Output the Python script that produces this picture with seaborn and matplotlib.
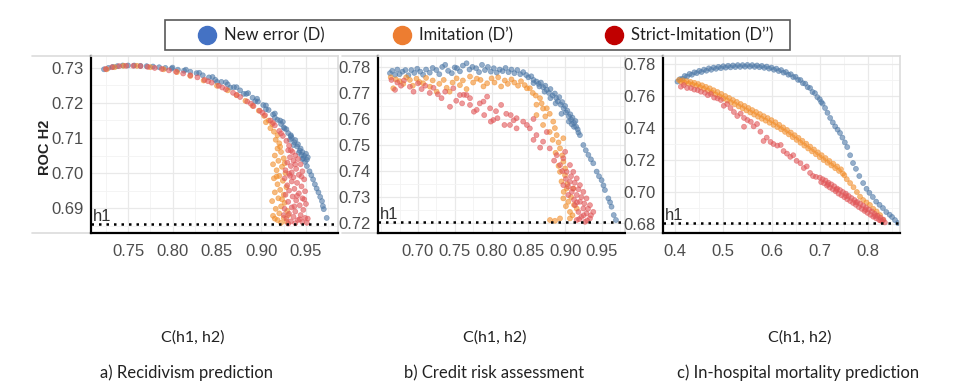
import matplotlib
matplotlib.use("Agg")
from matplotlib import pyplot as plt
from matplotlib.lines import Line2D
from matplotlib.patches import Rectangle
from matplotlib.ticker import MultipleLocator, FixedLocator
import matplotlib.transforms as mtransforms
import pandas as pd
import seaborn as sns

series_names = ["New error (D)", "Imitation (D\u2019)", "Strict-Imitation (D\u2019\u2019)"]
point_colors = ["#4e79a7", "#f28e2b", "#e15759"]
legend_colors = ["#4472c4", "#ed7d31", "#c00000"]
captions = ["a) Recidivism prediction", "b) Credit risk assessment", "c) In-hospital mortality prediction"]
x_title = "C(h1, h2)"
y_title = "ROC H2"
h1_values = [0.6855, 0.7203, 0.6805]
x_tick_values = [
    [0.75, 0.80, 0.85, 0.90, 0.95],
    [0.70, 0.75, 0.80, 0.85, 0.90, 0.95],
    [0.4, 0.5, 0.6, 0.7, 0.8],
]

# ---- a) Recidivism: (C, ROC) pairs ----
a_new_error = [
    (0.723, 0.7296), (0.728, 0.7300), (0.733, 0.7303), (0.738, 0.7305), (0.744, 0.7307), (0.750, 0.7307),
    (0.757, 0.7307), (0.764, 0.7306), (0.771, 0.7305), (0.778, 0.7304), (0.785, 0.7302), (0.792, 0.7300),
    (0.799, 0.7298), (0.806, 0.7295), (0.813, 0.7292), (0.820, 0.7289), (0.827, 0.7285), (0.834, 0.7279),
    (0.841, 0.7273), (0.848, 0.7266), (0.855, 0.7260), (0.862, 0.7253), (0.869, 0.7245), (0.876, 0.7236),
    (0.883, 0.7226), (0.890, 0.7215), (0.896, 0.7204), (0.902, 0.7194), (0.908, 0.7180), (0.913, 0.7167),
    (0.918, 0.7152), (0.922, 0.7140), (0.926, 0.7127), (0.930, 0.7114), (0.934, 0.7100), (0.937, 0.7088),
    (0.940, 0.7076), (0.943, 0.7064), (0.945, 0.7052), (0.947, 0.7042), (0.949, 0.7032),
    (0.800, 0.7301), (0.815, 0.7295), (0.830, 0.7286), (0.845, 0.7274), (0.860, 0.7259), (0.872, 0.7245),
    (0.885, 0.7228), (0.895, 0.7212), (0.905, 0.7193), (0.915, 0.7170), (0.924, 0.7146),
    (0.850, 0.7260), (0.865, 0.7244), (0.880, 0.7226), (0.893, 0.7205), (0.905, 0.7182), (0.915, 0.7158),
    (0.925, 0.7130), (0.933, 0.7105),
    (0.921, 0.7150), (0.928, 0.7125), (0.933, 0.7108), (0.938, 0.7094), (0.941, 0.7082), (0.944, 0.7070),
    (0.946, 0.7060), (0.948, 0.7049), (0.951, 0.7038), (0.952, 0.7045), (0.950, 0.7055), (0.936, 0.7080),
    (0.932, 0.7095), (0.942, 0.7058), (0.946, 0.7040),
    (0.951, 0.7020), (0.954, 0.7005), (0.956, 0.6994), (0.958, 0.6982), (0.960, 0.6968), (0.962, 0.6956),
    (0.964, 0.6945), (0.966, 0.6932), (0.968, 0.6920), (0.969, 0.6906), (0.970, 0.6897), (0.9733, 0.6872),
]
a_imitation = [
    (0.726, 0.7296), (0.735, 0.7302), (0.745, 0.7306), (0.760, 0.7306), (0.775, 0.7302), (0.790, 0.7296),
    (0.805, 0.7288), (0.820, 0.7277), (0.835, 0.7264), (0.850, 0.7249), (0.862, 0.7236), (0.872, 0.7222),
    (0.882, 0.7206), (0.890, 0.7192), (0.897, 0.7178), (0.903, 0.7163), (0.908, 0.7150), (0.912, 0.7140),
    (0.905, 0.7145), (0.910, 0.7128), (0.914, 0.7118), (0.918, 0.7108), (0.916, 0.7095), (0.920, 0.7085),
    (0.918, 0.7070), (0.922, 0.7060), (0.915, 0.7050), (0.925, 0.7042), (0.919, 0.7035), (0.913, 0.7025),
    (0.923, 0.7018), (0.917, 0.7008), (0.927, 0.7000), (0.920, 0.6992), (0.914, 0.6985), (0.924, 0.6978),
    (0.918, 0.6968), (0.928, 0.6960), (0.921, 0.6952), (0.915, 0.6945), (0.925, 0.6938), (0.919, 0.6928),
    (0.912, 0.6920), (0.926, 0.6915), (0.922, 0.6905), (0.916, 0.6898), (0.929, 0.6892), (0.920, 0.6885),
    (0.913, 0.6878), (0.925, 0.6872), (0.918, 0.6866), (0.928, 0.6862), (0.922, 0.6858), (0.915, 0.6870),
    (0.930, 0.6880), (0.923, 0.6925), (0.917, 0.6990), (0.926, 0.7028), (0.921, 0.7075),
]
a_strict = [
    (0.725, 0.7297), (0.732, 0.7302), (0.740, 0.7305), (0.748, 0.7306), (0.756, 0.7306), (0.764, 0.7305),
    (0.772, 0.7303), (0.780, 0.7300), (0.788, 0.7297), (0.796, 0.7293), (0.804, 0.7289), (0.812, 0.7284),
    (0.820, 0.7279), (0.828, 0.7273), (0.836, 0.7266), (0.844, 0.7258), (0.852, 0.7249), (0.860, 0.7239),
    (0.868, 0.7229), (0.876, 0.7217), (0.884, 0.7204), (0.891, 0.7191), (0.898, 0.7178), (0.904, 0.7165),
    (0.910, 0.7150), (0.915, 0.7136), (0.920, 0.7120), (0.924, 0.7106), (0.928, 0.7092), (0.931, 0.7078),
    (0.933, 0.7065), (0.840, 0.7262), (0.856, 0.7244), (0.872, 0.7223), (0.888, 0.7198), (0.901, 0.7172),
    (0.913, 0.7143), (0.922, 0.7113),
    (0.930, 0.7065), (0.935, 0.7060), (0.938, 0.7050), (0.932, 0.7045), (0.941, 0.7040), (0.936, 0.7035),
    (0.929, 0.7030), (0.944, 0.7025), (0.933, 0.7020), (0.939, 0.7012), (0.927, 0.7008), (0.946, 0.7005),
    (0.931, 0.6998), (0.942, 0.6995), (0.936, 0.6988), (0.926, 0.6985), (0.948, 0.6982), (0.934, 0.6976),
    (0.940, 0.6972), (0.929, 0.6965), (0.945, 0.6962), (0.937, 0.6955), (0.931, 0.6950), (0.949, 0.6948),
    (0.942, 0.6942), (0.927, 0.6938), (0.935, 0.6933), (0.946, 0.6928), (0.939, 0.6922), (0.930, 0.6918),
    (0.950, 0.6912), (0.943, 0.6908), (0.934, 0.6902), (0.926, 0.6898), (0.947, 0.6895), (0.938, 0.6890),
    (0.931, 0.6884), (0.944, 0.6880), (0.936, 0.6875), (0.949, 0.6872), (0.928, 0.6870), (0.941, 0.6866),
    (0.933, 0.6862), (0.946, 0.6860), (0.938, 0.6857), (0.930, 0.6856), (0.951, 0.6858), (0.943, 0.6868),
    (0.925, 0.6880), (0.937, 0.6905), (0.940, 0.6935), (0.932, 0.6992), (0.945, 0.6990), (0.938, 0.7025),
    (0.934, 0.7002), (0.948, 0.6925), (0.952, 0.6870),
]

# ---- b) Credit risk ----
b_new_error = [
    (0.662, 0.7776), (0.665, 0.7785), (0.669, 0.7770), (0.672, 0.7790), (0.675, 0.7772), (0.679, 0.7782),
    (0.683, 0.7788), (0.687, 0.7768), (0.691, 0.7788), (0.695, 0.7777), (0.699, 0.7793), (0.703, 0.7782),
    (0.707, 0.7770), (0.711, 0.7790), (0.716, 0.7778), (0.720, 0.7796), (0.725, 0.7788), (0.729, 0.7772),
    (0.733, 0.7800), (0.737, 0.7808), (0.741, 0.7785), (0.746, 0.7776), (0.750, 0.7798), (0.753, 0.7795),
    (0.757, 0.7783), (0.761, 0.7805), (0.766, 0.7814), (0.770, 0.7790), (0.774, 0.7800), (0.779, 0.7795),
    (0.783, 0.7780), (0.787, 0.7808), (0.791, 0.7788), (0.795, 0.7800), (0.799, 0.7782), (0.803, 0.7795),
    (0.807, 0.7778), (0.811, 0.7790), (0.815, 0.7784), (0.819, 0.7796), (0.823, 0.7780), (0.827, 0.7790),
    (0.831, 0.7776), (0.835, 0.7788), (0.839, 0.7772), (0.843, 0.7780),
    (0.847, 0.7769), (0.850, 0.7760), (0.854, 0.7764), (0.857, 0.7750), (0.861, 0.7744), (0.864, 0.7735),
    (0.867, 0.7740), (0.870, 0.7722), (0.873, 0.7728), (0.875, 0.7712), (0.878, 0.7700), (0.880, 0.7715),
    (0.883, 0.7690), (0.886, 0.7698), (0.888, 0.7680), (0.890, 0.7668), (0.892, 0.7684), (0.894, 0.7655),
    (0.896, 0.7665), (0.898, 0.7641), (0.900, 0.7650), (0.901, 0.7625), (0.903, 0.7632), (0.905, 0.7610),
    (0.907, 0.7618), (0.908, 0.7598), (0.910, 0.7605), (0.912, 0.7585), (0.914, 0.7592), (0.915, 0.7570),
    (0.917, 0.7560), (0.918, 0.7548), (0.920, 0.7538), (0.912, 0.7570), (0.909, 0.7580), (0.905, 0.7590),
    (0.895, 0.7620), (0.887, 0.7660), (0.880, 0.7680), (0.872, 0.7705), (0.865, 0.7725), (0.857, 0.7738),
    (0.9247, 0.7500), (0.928, 0.7480), (0.9315, 0.7462), (0.935, 0.7445), (0.9382, 0.7430), (0.9428, 0.7398),
    (0.946, 0.7380), (0.9495, 0.7365), (0.952, 0.7345), (0.954, 0.7327), (0.9587, 0.7295), (0.961, 0.7280),
    (0.963, 0.7263), (0.966, 0.7231), (0.969, 0.7212),
]
b_imitation = [
    (0.663, 0.7760), (0.6665, 0.7718), (0.670, 0.7752), (0.675, 0.7745), (0.680, 0.7735), (0.684, 0.7760),
    (0.689, 0.7750), (0.693, 0.7728), (0.698, 0.7755), (0.702, 0.7742), (0.707, 0.7737), (0.711, 0.7758),
    (0.7163, 0.7724), (0.720, 0.7748), (0.7254, 0.7705), (0.729, 0.7735), (0.735, 0.7750), (0.739, 0.7720),
    (0.743, 0.7705), (0.747, 0.7740), (0.7525, 0.7756), (0.757, 0.7730), (0.761, 0.7748), (0.766, 0.7715),
    (0.7707, 0.7763), (0.775, 0.7740), (0.780, 0.7755), (0.785, 0.7750), (0.789, 0.7725), (0.794, 0.7737),
    (0.800, 0.7756), (0.804, 0.7740), (0.809, 0.7760), (0.813, 0.7725), (0.818, 0.7748), (0.822, 0.7735),
    (0.827, 0.7752), (0.831, 0.7740), (0.836, 0.7728), (0.840, 0.7745), (0.845, 0.7730), (0.848, 0.7718),
    (0.852, 0.7718), (0.856, 0.7700), (0.860, 0.7690), (0.8658, 0.7680), (0.861, 0.7655), (0.868, 0.7660),
    (0.870, 0.7640), (0.875, 0.7641), (0.861, 0.7615), (0.873, 0.7610), (0.879, 0.7620), (0.870, 0.7577),
    (0.8838, 0.7590), (0.879, 0.7550), (0.886, 0.7565), (0.8885, 0.7538), (0.883, 0.7520), (0.891, 0.7510),
    (0.8975, 0.7526), (0.893, 0.7487), (0.887, 0.7470), (0.896, 0.7460), (0.8975, 0.7436), (0.891, 0.7420),
    (0.900, 0.7410), (0.893, 0.7397), (0.8998, 0.7384), (0.895, 0.7360), (0.903, 0.7350), (0.902, 0.7333),
    (0.911, 0.7333), (0.898, 0.7320), (0.9043, 0.7282), (0.8975, 0.7295), (0.908, 0.7300), (0.9065, 0.7243),
    (0.9157, 0.7256), (0.912, 0.7270), (0.901, 0.7265), (0.8794, 0.7212), (0.8862, 0.7209), (0.893, 0.7218),
    (0.9065, 0.7218), (0.910, 0.7230),
]
b_strict = [
    (0.664, 0.7750), (0.6688, 0.7712), (0.672, 0.7740), (0.677, 0.7728), (0.681, 0.7748), (0.689, 0.7724),
    (0.694, 0.7705), (0.700, 0.7737), (0.705, 0.7715), (0.710, 0.7728), (0.716, 0.7700), (0.721, 0.7720),
    (0.727, 0.7695), (0.732, 0.7680), (0.737, 0.7705), (0.7435, 0.7647), (0.748, 0.7718), (0.752, 0.7670),
    (0.757, 0.7692), (0.760, 0.7660), (0.7623, 0.7693), (0.766, 0.7692), (0.7707, 0.7654), (0.7707, 0.7680),
    (0.776, 0.7628), (0.7798, 0.7635), (0.784, 0.7660), (0.789, 0.7667), (0.790, 0.7615), (0.794, 0.7686),
    (0.798, 0.7641), (0.799, 0.7590), (0.8024, 0.7596), (0.806, 0.7630), (0.808, 0.7603), (0.813, 0.7654),
    (0.8175, 0.7577), (0.820, 0.7620), (0.825, 0.7577), (0.826, 0.7615), (0.830, 0.7595), (0.834, 0.7564),
    (0.834, 0.7603), (0.843, 0.7590), (0.848, 0.7577), (0.852, 0.7564), (0.857, 0.7600),
    (0.861, 0.7538), (0.870, 0.7513), (0.875, 0.7550), (0.879, 0.7487), (0.8885, 0.7461), (0.893, 0.7423),
    (0.8975, 0.7449), (0.900, 0.7474), (0.902, 0.7397), (0.9065, 0.7359), (0.8975, 0.7346), (0.911, 0.7333),
    (0.9157, 0.7308), (0.9043, 0.7308), (0.920, 0.7282), (0.9133, 0.7269), (0.9247, 0.7256), (0.918, 0.7243),
    (0.929, 0.7237), (0.922, 0.7224), (0.9337, 0.7218), (0.927, 0.7205), (0.9157, 0.7212), (0.9382, 0.7243),
    (0.9337, 0.7269), (0.929, 0.7295), (0.9247, 0.7320), (0.920, 0.7346), (0.9157, 0.7372), (0.911, 0.7397),
    (0.9065, 0.7423), (0.908, 0.7380), (0.913, 0.7355), (0.918, 0.7330), (0.922, 0.7300), (0.926, 0.7275),
    (0.931, 0.7255), (0.925, 0.7230), (0.919, 0.7215), (0.930, 0.7210), (0.935, 0.7230), (0.912, 0.7290),
    (0.916, 0.7280), (0.904, 0.7340), (0.909, 0.7320), (0.901, 0.7370), (0.896, 0.7400), (0.885, 0.7440),
    (0.866, 0.7490), (0.857, 0.7520),
]

# ---- c) In-hospital mortality ----
c_new_error = [
    (0.405, 0.7690), (0.410, 0.7705), (0.415, 0.7708), (0.420, 0.7725), (0.425, 0.7722), (0.430, 0.7738),
    (0.435, 0.7733), (0.440, 0.7748), (0.445, 0.7743), (0.450, 0.7757), (0.455, 0.7750), (0.460, 0.7765),
    (0.465, 0.7758), (0.470, 0.7773), (0.475, 0.7764), (0.480, 0.7778), (0.485, 0.7770), (0.490, 0.7782),
    (0.495, 0.7774), (0.500, 0.7786), (0.505, 0.7777), (0.510, 0.7789), (0.515, 0.7779), (0.520, 0.7791),
    (0.525, 0.7781), (0.530, 0.7793), (0.535, 0.7782), (0.540, 0.7793), (0.545, 0.7783), (0.550, 0.7794),
    (0.555, 0.7783), (0.560, 0.7793), (0.565, 0.7782), (0.570, 0.7791), (0.575, 0.7780), (0.580, 0.7788),
    (0.585, 0.7776), (0.590, 0.7784), (0.595, 0.7771), (0.600, 0.7778), (0.605, 0.7764), (0.610, 0.7771),
    (0.615, 0.7756), (0.620, 0.7762), (0.625, 0.7746), (0.630, 0.7750), (0.635, 0.7733), (0.640, 0.7736),
    (0.645, 0.7718), (0.650, 0.7720), (0.655, 0.7701), (0.660, 0.7700), (0.665, 0.7680), (0.670, 0.7677),
    (0.675, 0.7655), (0.680, 0.7650), (0.685, 0.7625), (0.690, 0.7618), (0.695, 0.7593), (0.700, 0.7580),
    (0.703, 0.7562), (0.706, 0.7552),
    (0.711, 0.7525), (0.716, 0.7495), (0.7216, 0.7463), (0.727, 0.7435), (0.732, 0.7410), (0.737, 0.7390),
    (0.742, 0.7369), (0.747, 0.7340), (0.752, 0.7310), (0.757, 0.7281), (0.763, 0.7230), (0.769, 0.7181),
    (0.775, 0.7145), (0.782, 0.7100), (0.790, 0.7056), (0.797, 0.7020), (0.803, 0.6995), (0.810, 0.6969),
    (0.817, 0.6940), (0.824, 0.6920), (0.831, 0.6900), (0.838, 0.6875), (0.845, 0.6858), (0.850, 0.6844),
    (0.856, 0.6825), (0.862, 0.6806),
]
c_imitation = [
    (0.408, 0.7700), (0.412, 0.7690), (0.416, 0.7698), (0.420, 0.7683), (0.424, 0.7693), (0.428, 0.7678),
    (0.432, 0.7688), (0.436, 0.7672), (0.440, 0.7682), (0.444, 0.7664), (0.448, 0.7675), (0.452, 0.7655),
    (0.456, 0.7667), (0.460, 0.7645), (0.464, 0.7657), (0.468, 0.7634), (0.472, 0.7648), (0.476, 0.7622),
    (0.480, 0.7636), (0.484, 0.7610), (0.488, 0.7625), (0.492, 0.7598), (0.496, 0.7613), (0.500, 0.7585),
    (0.504, 0.7600), (0.508, 0.7572), (0.512, 0.7588), (0.516, 0.7560), (0.520, 0.7575), (0.524, 0.7548),
    (0.528, 0.7563), (0.532, 0.7535), (0.536, 0.7550), (0.540, 0.7523), (0.544, 0.7538), (0.548, 0.7510),
    (0.552, 0.7525), (0.556, 0.7497), (0.560, 0.7512), (0.564, 0.7484), (0.568, 0.7500), (0.572, 0.7471),
    (0.576, 0.7487), (0.580, 0.7458), (0.584, 0.7474), (0.588, 0.7446), (0.592, 0.7462), (0.596, 0.7433),
    (0.600, 0.7449), (0.604, 0.7420), (0.608, 0.7436), (0.612, 0.7406), (0.616, 0.7420), (0.620, 0.7392),
    (0.624, 0.7404), (0.628, 0.7376), (0.632, 0.7388), (0.636, 0.7360), (0.640, 0.7372), (0.644, 0.7343),
    (0.648, 0.7355), (0.652, 0.7326), (0.656, 0.7338), (0.660, 0.7308), (0.664, 0.7320), (0.668, 0.7290),
    (0.672, 0.7302), (0.676, 0.7272), (0.680, 0.7284), (0.684, 0.7254), (0.688, 0.7266), (0.692, 0.7236),
    (0.696, 0.7248), (0.700, 0.7218), (0.704, 0.7230), (0.708, 0.7200), (0.712, 0.7212), (0.716, 0.7183),
    (0.720, 0.7194), (0.724, 0.7166), (0.728, 0.7177), (0.732, 0.7149), (0.736, 0.7160), (0.740, 0.7132),
    (0.744, 0.7142), (0.748, 0.7115), (0.751, 0.7105),
    (0.756, 0.7080), (0.763, 0.7056), (0.770, 0.7030), (0.777, 0.7000), (0.7835, 0.6971), (0.790, 0.6950),
    (0.797, 0.6935), (0.804, 0.6919), (0.811, 0.6895), (0.818, 0.6878), (0.825, 0.6856), (0.831, 0.6825),
]
c_strict = [
    (0.412, 0.7658), (0.418, 0.7668), (0.425, 0.7650), (0.433, 0.7650), (0.440, 0.7640), (0.447, 0.7637),
    (0.4536, 0.7627), (0.462, 0.7620), (0.468, 0.7605), (0.474, 0.7613), (0.481, 0.7590), (0.488, 0.7585),
    (0.495, 0.7575), (0.501, 0.7539), (0.508, 0.7550), (0.515, 0.7525), (0.522, 0.7500), (0.529, 0.7475),
    (0.536, 0.7490), (0.543, 0.7463), (0.550, 0.7450), (0.543, 0.7408), (0.557, 0.7439), (0.563, 0.7410),
    (0.570, 0.7425), (0.577, 0.7377), (0.5835, 0.7319), (0.590, 0.7340), (0.598, 0.7313), (0.604, 0.7300),
    (0.612, 0.7290), (0.619, 0.7294), (0.625, 0.7256), (0.632, 0.7240), (0.639, 0.7220), (0.645, 0.7230),
    (0.652, 0.7195), (0.660, 0.7180), (0.667, 0.7150), (0.673, 0.7160), (0.680, 0.7119), (0.686, 0.7100),
    (0.692, 0.7095),
    (0.700, 0.7090), (0.703, 0.7062), (0.706, 0.7080), (0.709, 0.7055), (0.712, 0.7072), (0.715, 0.7040),
    (0.718, 0.7058), (0.721, 0.7028), (0.724, 0.7048), (0.727, 0.7018), (0.730, 0.7036), (0.733, 0.7005),
    (0.736, 0.7022), (0.739, 0.6990), (0.742, 0.7012), (0.745, 0.6980), (0.748, 0.7000), (0.751, 0.6968),
    (0.754, 0.6990), (0.757, 0.6955), (0.760, 0.6975), (0.763, 0.6944), (0.766, 0.6962), (0.769, 0.6932),
    (0.772, 0.6950), (0.775, 0.6920), (0.778, 0.6938), (0.781, 0.6906), (0.784, 0.6926), (0.787, 0.6895),
    (0.790, 0.6915), (0.793, 0.6882), (0.796, 0.6902), (0.799, 0.6870), (0.802, 0.6890), (0.805, 0.6858),
    (0.808, 0.6878), (0.811, 0.6846), (0.814, 0.6864), (0.817, 0.6836), (0.820, 0.6852), (0.823, 0.6826),
    (0.826, 0.6840), (0.829, 0.6818), (0.832, 0.6828), (0.835, 0.6810), (0.826, 0.6822), (0.815, 0.6850),
    (0.795, 0.6890), (0.775, 0.6935), (0.755, 0.6975), (0.735, 0.7015), (0.717, 0.7048),
]

panel_points = [
    [a_new_error, a_imitation, a_strict],
    [b_new_error, b_imitation, b_strict],
    [c_new_error, c_imitation, c_strict],
]
x_limits = [(0.7084, 0.986), (0.6457, 0.9813), (0.375, 0.8664)]
y_limits = [(0.6829, 0.7334), (0.7162, 0.7842), (0.6744, 0.7850)]
x_steps = [0.05, 0.05, 0.1]
y_steps = [0.01, 0.01, 0.02]
x_fmt = ["{:.2f}", "{:.2f}", "{:.1f}"]

sns.set_style("white")
plt.rcParams["font.family"] = ["Liberation Sans", "DejaVu Sans"]

fig = plt.figure(figsize=(9.75, 3.92), dpi=100)
W, H = 975.0, 392.0
# axes boxes in pixels: left, right
boxes = [(91, 338), (378, 625), (663, 900)]
top_px, bottom_px = 56, 233
frame_left = [32, 342, 627]
label_centers = [193, 495, 800]
caption_centers = [186, 494, 798]

for i, (l, r) in enumerate(boxes):
    ax = fig.add_axes([l / W, 1 - bottom_px / H, (r - l) / W, (bottom_px - top_px) / H])
    rows = []
    for name, pts in zip(series_names, panel_points[i]):
        for x, y in pts:
            rows.append({"C": x, "ROC": y, "series": name})
    df = pd.DataFrame(rows)
    sns.scatterplot(data=df, x="C", y="ROC", hue="series", hue_order=series_names,
                    palette=point_colors, s=13, alpha=0.6, linewidth=0.5,
                    edgecolor="face", legend=False, ax=ax)
    ax.set_xlim(*x_limits[i])
    ax.set_ylim(*y_limits[i])
    ax.xaxis.set_major_locator(FixedLocator(x_tick_values[i]))
    ax.xaxis.set_minor_locator(MultipleLocator(x_steps[i] / 2))
    ax.yaxis.set_major_locator(MultipleLocator(y_steps[i]))
    ax.yaxis.set_minor_locator(MultipleLocator(y_steps[i] / 2))
    ax.xaxis.set_major_formatter(plt.FuncFormatter(lambda v, p, f=x_fmt[i]: f.format(v)))
    ax.yaxis.set_major_formatter(plt.FuncFormatter(lambda v, p: "{:.2f}".format(v)))
    ax.grid(which="major", color="#e9e9e9", lw=0.9)
    ax.grid(which="minor", color="#f3f3f3", lw=0.6)
    ax.set_axisbelow(True)
    ax.tick_params(axis="both", which="major", labelsize=12, labelcolor="#4d4d4d",
                   length=3, width=1, color="#333333", pad=2)
    ax.tick_params(axis="both", which="minor", length=0)
    ax.tick_params(axis="x", pad=5)
    for side in ["left", "bottom"]:
        ax.spines[side].set_color("black")
        ax.spines[side].set_linewidth(1.6)
    for side in ["top", "right"]:
        ax.spines[side].set_color("#dcdcdc")
        ax.spines[side].set_linewidth(1.2)
    ax.set_xlabel("")
    ax.set_ylabel("")
    # dotted reference line for h1
    ax.axhline(h1_values[i], color="black", lw=1.8, linestyle=(0, (1, 2)))
    trans = mtransforms.blended_transform_factory(ax.transAxes, ax.transData)
    ax.text(0.008, h1_values[i], "h1", transform=trans, ha="left", va="bottom",
            fontsize=12, color="#333333")
    # light frame lines reaching over the tick label area
    ext = -(l - frame_left[i]) / (r - l)
    ax.plot([ext, 0], [1, 1], transform=ax.transAxes, color="#dcdcdc", lw=1.2, clip_on=False)
    ax.plot([ext, 0], [0, 0], transform=ax.transAxes, color="#dcdcdc", lw=1.2, clip_on=False)

    fig.text(label_centers[i] / W, 1 - 338 / H, x_title, ha="center", va="center",
             fontsize=11.5, family=["Lato", "DejaVu Sans"], color="#222222")
    fig.text(caption_centers[i] / W, 1 - 373 / H, captions[i], ha="center", va="center",
             fontsize=12, family=["Lato", "DejaVu Sans"], color="#222222")

fig.text(45 / W, 1 - 147 / H, y_title, rotation=90, ha="center", va="center",
         fontsize=10.5, fontweight="bold", color="#222222")

# legend box across the top
fig.add_artist(Rectangle((165 / W, 1 - 50 / H), 625 / W, 30 / H, transform=fig.transFigure,
                         fill=False, edgecolor="#595959", lw=1.2))
legend_marker_x = [207, 402, 614]
for name, col, mx in zip(series_names, legend_colors, legend_marker_x):
    fig.add_artist(Line2D([mx / W], [1 - 35 / H], marker="o", markersize=13, color=col,
                          markeredgecolor=col, transform=fig.transFigure))
    fig.text((mx + 17) / W, 1 - 35 / H, name, ha="left", va="center", fontsize=12,
             family=["Lato", "DejaVu Sans"], color="#222222")

fig.savefig("out.png", dpi=100)
